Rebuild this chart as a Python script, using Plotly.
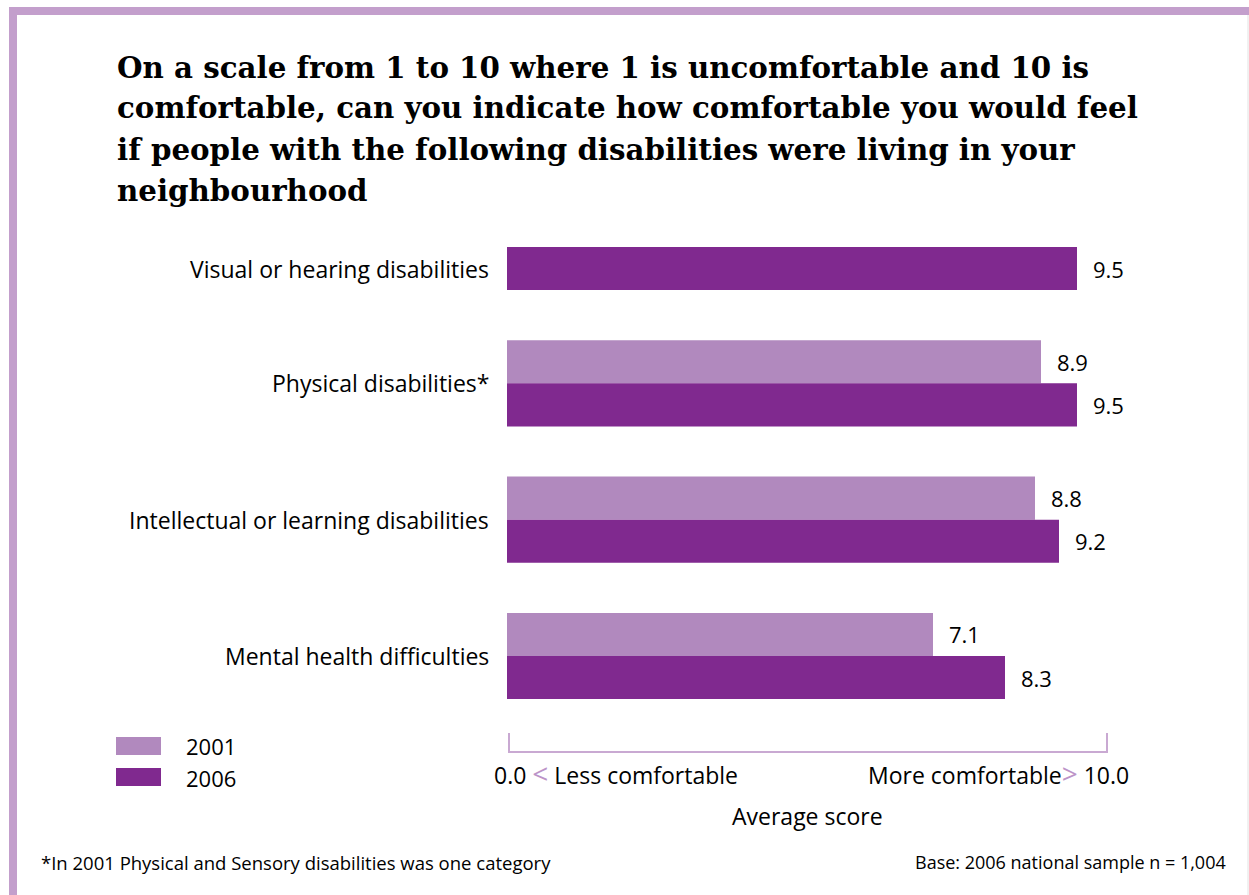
import plotly.graph_objects as go

# Survey results: average comfort score (1-10)
categories = [
    "Visual or hearing disabilities",
    "Physical disabilities*",
    "Intellectual or learning disabilities",
    "Mental health difficulties",
]
scores_2001 = [None, 8.9, 8.8, 7.1]
scores_2006 = [9.5, 9.5, 9.2, 8.3]
years = ["2001", "2006"]
title_lines = [
    "On a scale from 1 to 10 where 1 is uncomfortable and 10 is",
    "comfortable, can you indicate how comfortable you would feel",
    "if people with the following disabilities were living in your",
    "neighbourhood",
]

COLOR_2001 = "#B189BE"
COLOR_2006 = "#80298F"
FRAME = "#C39FCC"
AXIS_LINE = "#C9A9D2"
ARROW = "#BC93C8"
LABEL_FONT = "'Open Sans', Lato, sans-serif"
TITLE_FONT = "'DejaVu Serif', serif"

W, H = 1249, 895
# plot-area geometry in pixels
L, R, T, B = 507, 1107, 172, 731
Y_LO, Y_HI = -0.55, 3.55
BAR_W = 0.316
OFF = BAR_W / 2


def px(x):
    return (x - L) / (R - L)


def py(y):
    return (B - y) / (B - T)


def txt(x, y, text, size, anchor="left", family=LABEL_FONT):
    return dict(x=px(x), y=py(y), xref="paper", yref="paper", xanchor=anchor,
                yanchor="middle", showarrow=False, text=text,
                font=dict(family=family, size=size, color="#000"))


idx = list(range(len(categories)))
y01 = [i - OFF for i in idx]
y06 = [i + OFF for i in idx]

fig = go.Figure()
fig.add_trace(go.Bar(
    y=y01, x=scores_2001, orientation="h", width=BAR_W,
    marker=dict(color=COLOR_2001, line=dict(width=0)), name=years[0],
))
fig.add_trace(go.Bar(
    y=y06, x=scores_2006, orientation="h", width=BAR_W,
    marker=dict(color=COLOR_2006, line=dict(width=0)), name=years[1],
))

annotations = []
# value labels just past the bar ends
for ys, vals in ((y01, scores_2001), (y06, scores_2006)):
    for yv, v in zip(ys, vals):
        if v is None:
            continue
        annotations.append(dict(
            x=v, y=yv, xref="x", yref="y", text=f"{v:.1f}", showarrow=False,
            xanchor="left", yanchor="middle", xshift=14,
            font=dict(family=LABEL_FONT, size=22, color="#000"),
        ))

# category labels: centred on the group, or on the single bar when only 2006 exists
for i, cat in enumerate(categories):
    yc = y06[i] if scores_2001[i] is None else i
    annotations.append(dict(
        x=-0.026, xref="paper", y=yc, yref="y", text=cat, showarrow=False,
        xanchor="right", yanchor="middle",
        font=dict(family=LABEL_FONT, size=23, color="#000"),
    ))

# axis end labels
annotations += [
    txt(492, 773, "0.0 <span style='color:%s;font-size:28px'>&lt;</span> Less comfortable" % ARROW, 23),
    txt(1131, 773, "More comfortable<span style='color:%s;font-size:28px'>&gt;</span> 10.0" % ARROW, 23,
        anchor="right"),
    txt(807, 816, "Average score", 23, anchor="center"),
    # legend text
    txt(184, 746, years[0], 22),
    txt(184, 778, years[1], 22),
    # footnotes
    txt(39, 862, "*In 2001 Physical and Sensory disabilities was one category", 18.5),
    txt(1228, 862, "Base: 2006 national sample n = 1,004", 18, anchor="right"),
]

# title, one line per annotation
for line, yc in zip(title_lines, (68, 108, 149, 190)):
    annotations.append(txt(115, yc, "<b>%s</b>" % line, 29.3, family=TITLE_FONT))

shapes = [
    # frame on top and left
    dict(type="rect", xref="paper", yref="paper", x0=px(9), x1=px(W + 5), y0=py(7), y1=py(15),
         fillcolor=FRAME, line=dict(width=0), layer="below"),
    dict(type="rect", xref="paper", yref="paper", x0=px(9), x1=px(17), y0=py(7), y1=py(H + 5),
         fillcolor=FRAME, line=dict(width=0), layer="below"),
    dict(type="line", xref="paper", yref="paper", x0=px(1248), x1=px(1248), y0=py(15), y1=py(H),
         line=dict(color="#E2E2E2", width=1)),
    # axis bracket
    dict(type="path", xref="paper", yref="paper",
         path=f"M {px(509)} {py(733)} L {px(509)} {py(752)} L {px(1107)} {py(752)} L {px(1107)} {py(733)}",
         line=dict(color=AXIS_LINE, width=2)),
    # legend swatches
    dict(type="rect", xref="paper", yref="paper", x0=px(116), x1=px(161), y0=py(737), y1=py(755),
         fillcolor=COLOR_2001, line=dict(width=0)),
    dict(type="rect", xref="paper", yref="paper", x0=px(116), x1=px(161), y0=py(768), y1=py(786),
         fillcolor=COLOR_2006, line=dict(width=0)),
]

fig.update_layout(
    width=W, height=H,
    margin=dict(l=L, r=W - R, t=T, b=H - B, pad=0),
    paper_bgcolor="white", plot_bgcolor="white",
    showlegend=False,
    barmode="overlay",
    xaxis=dict(range=[0, 10], visible=False, fixedrange=True),
    yaxis=dict(range=[Y_HI, Y_LO], visible=False, fixedrange=True),
    annotations=annotations,
    shapes=shapes,
)

fig.write_html("out.html")
